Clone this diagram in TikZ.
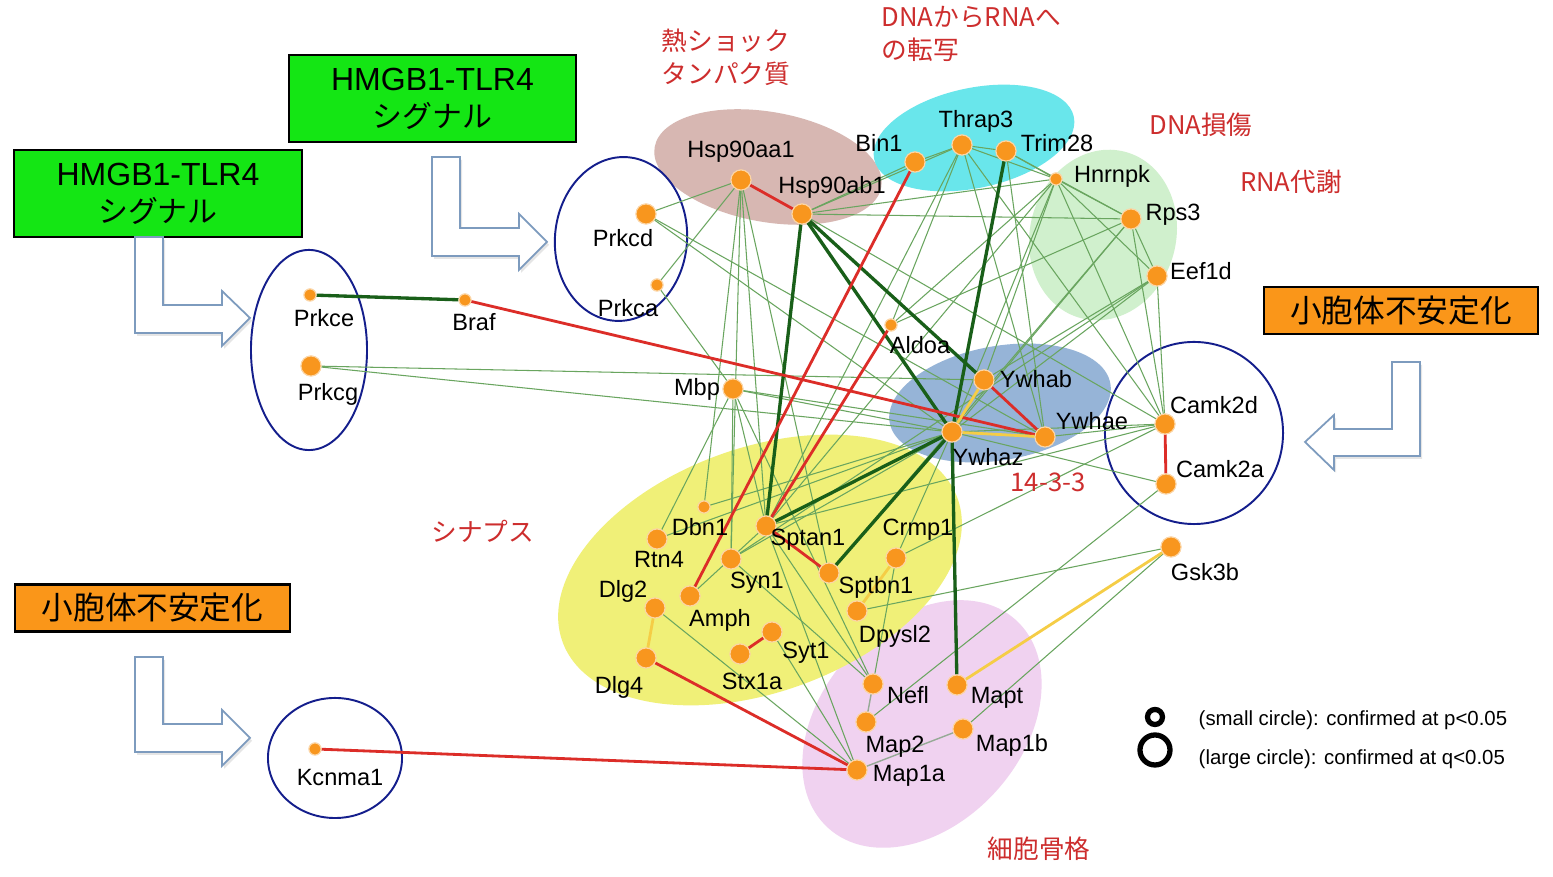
\documentclass[tikz,border=0pt]{standalone}
\usepackage{fontspec}
\setmainfont{Liberation Sans}
\newfontfamily\jpfont{Noto Sans CJK JP}
\usetikzlibrary{shadows}

\definecolor{geneorange}{RGB}{248,150,30}
\definecolor{darkedge}{RGB}{25,95,25}
\definecolor{thinedge}{RGB}{105,165,95}
\definecolor{grayedge}{RGB}{150,170,150}
\definecolor{rededge}{RGB}{220,45,40}
\definecolor{yellowedge}{RGB}{245,205,70}
\definecolor{ringblue}{RGB}{20,30,140}
\definecolor{catred}{RGB}{205,45,45}
\definecolor{boxgreen}{RGB}{20,230,20}
\definecolor{boxorange}{RGB}{250,150,25}
\definecolor{arrowblue}{RGB}{125,155,190}
\definecolor{hspbg}{RGB}{215,183,178}
\definecolor{txbg}{RGB}{105,230,235}
\definecolor{dnabg}{RGB}{208,240,205}
\definecolor{ywbg}{RGB}{150,180,215}
\definecolor{synbg}{RGB}{240,240,120}
\definecolor{cytobg}{RGB}{240,210,240}

\begin{document}
\begin{tikzpicture}[x=0.01cm,y=-0.01cm,
  big/.style={circle,fill=geneorange,draw=geneorange!40!white,line width=0.3pt,minimum size=0.2cm,inner sep=0pt},
  small/.style={big,minimum size=0.12cm},
  gene/.style={font=\fontsize{6.7}{8}\selectfont,inner sep=0pt},
  catlabel/.style={font=\jpfont\fontsize{7.3}{9.4}\selectfont,text=catred,inner sep=0pt,align=left},
  greenlink/.style={draw=thinedge,line width=0.3pt},
  graylink/.style={draw=grayedge,line width=0.4pt},
  darklink/.style={draw=darkedge,line width=0.95pt},
  redlink/.style={draw=rededge,line width=0.8pt},
  yellowlink/.style={draw=yellowedge,line width=0.8pt},
  ring/.style={draw=ringblue,line width=0.55pt},
  sigbox/.style={draw=black,line width=0.6pt,fill=boxgreen,minimum width=2.87cm,minimum height=0.87cm,align=center,inner sep=0pt,font=\fontsize{9.1}{10.5}\selectfont},
  ersbox/.style={draw=black,line width=0.6pt,fill=boxorange,minimum width=2.74cm,minimum height=0.47cm,inner sep=0pt,font=\jpfont\fontsize{9}{10}\selectfont},
  hollow/.style={draw=arrowblue,line width=0.5pt,fill=white,drop shadow={opacity=0.2,shadow xshift=0.6pt,shadow yshift=-0.8pt}}]
 \useasboundingbox (0,0) rectangle (1553,877);
 \fill[white] (0,0) rectangle (1553,877);
 % coloured groups
 \fill[hspbg,rotate around={-10:(768,167)}] (768,167) ellipse [x radius=1.15cm,y radius=0.55cm];
 \fill[dnabg,rotate around={-15:(1103,235)}] (1103,235) ellipse [x radius=0.73cm,y radius=0.86cm];
 \fill[txbg,rotate around={12:(974,138)}] (974,138) ellipse [x radius=1.02cm,y radius=0.5cm];
 \fill[ywbg,rotate around={10:(1000,403)}] (1000,403) ellipse [x radius=1.12cm,y radius=0.57cm];
 \fill[cytobg,rotate around={48:(922,724)}] (922,724) ellipse [x radius=1.4cm,y radius=1cm];
 \fill[synbg,rotate around={20:(760,570)}] (760,570) ellipse [x radius=2.1cm,y radius=1.22cm];
 % blue rings
 \draw[ring] (309,350) ellipse [x radius=0.58cm,y radius=1cm];
 \draw[ring,rotate around={-5:(621,239)}] (621,239) ellipse [x radius=0.66cm,y radius=0.82cm];
 \draw[ring] (1194,433) ellipse [x radius=0.89cm,y radius=0.91cm];
 \draw[ring] (335,758) ellipse [x radius=0.67cm,y radius=0.6cm];

 % genes
 \node[small] (Prkce) at (310,295) {};
 \node[big] (Prkcg) at (311,366) {};
 \node[small] (Braf) at (465,300) {};
 \node[big] (Prkcd) at (646,214) {};
 \node[small] (Prkca) at (657,285) {};
 \node[big] (Hsp90aa1) at (741,180) {};
 \node[big] (Hsp90ab1) at (802,214) {};
 \node[big] (Bin1) at (915,162) {};
 \node[big] (Thrap3) at (962,145) {};
 \node[big] (Trim28) at (1006,151) {};
 \node[small] (Hnrnpk) at (1056,179) {};
 \node[big] (Rps3) at (1131,219) {};
 \node[big] (Eef1d) at (1157,276) {};
 \node[small] (Aldoa) at (891,325) {};
 \node[big] (Mbp) at (733,389) {};
 \node[big] (Ywhab) at (984,380) {};
 \node[big] (Ywhaz) at (952,432) {};
 \node[big] (Ywhae) at (1045,437) {};
 \node[big] (Camk2d) at (1165,424) {};
 \node[big] (Camk2a) at (1166,484) {};
 \node[big] (Gsk3b) at (1171,547) {};
 \node[small] (Dbn1) at (704,507) {};
 \node[big] (Rtn4) at (657,539) {};
 \node[big] (Sptan1) at (766,526) {};
 \node[big] (Crmp1) at (896,558) {};
 \node[big] (Syn1) at (731,559) {};
 \node[big] (Sptbn1) at (829,573) {};
 \node[big] (Dlg2) at (655,608) {};
 \node[big] (Amph) at (690,596) {};
 \node[big] (Dpysl2) at (857,611) {};
 \node[big] (Syt1) at (772,632) {};
 \node[big] (Stx1a) at (740,654) {};
 \node[big] (Dlg4) at (646,658) {};
 \node[big] (Nefl) at (873,684) {};
 \node[big] (Mapt) at (957,685) {};
 \node[big] (Map2) at (866,722) {};
 \node[big] (Map1b) at (963,729) {};
 \node[big] (Map1a) at (857,770) {};
 \node[small] (Kcnma1) at (315,749) {};

 % thin links
 \draw[greenlink] (Prkcg) -- (Ywhab);
 \draw[greenlink] (Prkcg) -- (Ywhaz);
 \draw[greenlink] (Prkcd) -- (Hsp90aa1);
 \draw[greenlink] (Prkcd) -- (Ywhaz);
 \draw[greenlink] (Prkcd) -- (Ywhae);
 \draw[greenlink] (Prkca) -- (Hsp90aa1);
 \draw[greenlink] (Prkca) -- (Mbp);
 \draw[greenlink] (Hsp90aa1) -- (Dbn1);
 \draw[greenlink] (Hsp90aa1) -- (Syn1);
 \draw[greenlink] (Hsp90aa1) -- (Sptan1);
 \draw[greenlink] (Hsp90aa1) -- (Sptbn1);
 \draw[greenlink] (Hsp90ab1) -- (Bin1);
 \draw[greenlink] (Hsp90ab1) -- (Thrap3);
 \draw[greenlink] (Hsp90ab1) -- (Hnrnpk);
 \draw[greenlink] (Hsp90ab1) -- (Rps3);
 \draw[greenlink] (Hsp90ab1) -- (Camk2d);
 \draw[greenlink] (Bin1) -- (Thrap3);
 \draw[greenlink] (Thrap3) -- (Trim28);
 \draw[greenlink] (Thrap3) -- (Hnrnpk);
 \draw[greenlink] (Thrap3) -- (Sptan1);
 \draw[greenlink] (Thrap3) -- (Aldoa);
 \draw[greenlink] (Thrap3) -- (Ywhae);
 \draw[greenlink] (Thrap3) -- (Camk2d);
 \draw[greenlink] (Trim28) -- (Hnrnpk);
 \draw[greenlink] (Trim28) -- (Rps3);
 \draw[greenlink] (Trim28) -- (Ywhae);
 \draw[greenlink] (Hnrnpk) -- (Rps3);
 \draw[greenlink] (Hnrnpk) -- (Eef1d);
 \draw[greenlink] (Hnrnpk) -- (Camk2d);
 \draw[greenlink] (Hnrnpk) -- (Ywhab);
 \draw[greenlink] (Hnrnpk) -- (Ywhaz);
 \draw[greenlink] (Hnrnpk) -- (Aldoa);
 \draw[greenlink] (Hnrnpk) -- (Sptan1);
 \draw[greenlink] (Rps3) -- (Eef1d);
 \draw[greenlink] (Rps3) -- (Camk2d);
 \draw[greenlink] (Rps3) -- (Ywhaz);
 \draw[greenlink] (Rps3) -- (Aldoa);
 \draw[greenlink] (Rps3) -- (Sptbn1);
 \draw[greenlink] (Eef1d) -- (Camk2d);
 \draw[greenlink] (Eef1d) -- (Ywhab);
 \draw[greenlink] (Eef1d) -- (Ywhaz);
 \draw[greenlink] (Eef1d) -- (Syn1);
 \draw[greenlink] (Mbp) -- (Ywhaz);
 \draw[greenlink] (Mbp) -- (Ywhae);
 \draw[greenlink] (Mbp) -- (Syn1);
 \draw[greenlink] (Mbp) -- (Sptan1);
 \draw[greenlink] (Mbp) -- (Rtn4);
 \draw[greenlink] (Mbp) -- (Nefl);
 \draw[greenlink] (Ywhaz) -- (Camk2d);
 \draw[greenlink] (Ywhaz) -- (Camk2a);
 \draw[greenlink] (Ywhae) -- (Camk2d);
 \draw[greenlink] (Ywhaz) -- (Dbn1);
 \draw[greenlink] (Ywhaz) -- (Syn1);
 \draw[greenlink] (Ywhaz) -- (Crmp1);
 \draw[greenlink] (Ywhaz) -- (Rtn4);
 \draw[greenlink] (Sptan1) -- (Amph);
 \draw[greenlink] (Sptan1) -- (Nefl);
 \draw[greenlink] (Sptan1) -- (Camk2d);
 \draw[greenlink] (Syn1) -- (Nefl);
 \draw[greenlink] (Crmp1) -- (Nefl);
 \draw[greenlink] (Crmp1) -- (Camk2d);
 \draw[greenlink] (Dpysl2) -- (Gsk3b);
 \draw[greenlink] (Camk2a) -- (Map2);
 \draw[greenlink] (Gsk3b) -- (Map1b);
 \draw[greenlink] (Dlg2) -- (Map1a);
 \draw[greenlink] (Syt1) -- (Map1a);
 \draw[greenlink] (Sptan1) -- (Map1a);
 \draw[graylink] (Map1b) -- (Map1a);
 \draw[graylink] (Nefl) -- (Map2);
 % strong links
 \draw[darklink] (Prkce) -- (Braf);
 \draw[darklink] (Hsp90ab1) -- (Sptan1);
 \draw[darklink] (Hsp90ab1) -- (Ywhab);
 \draw[darklink] (Hsp90ab1) -- (Ywhaz);
 \draw[darklink] (Trim28) -- (Ywhaz);
 \draw[darklink] (Ywhaz) -- (Sptan1);
 \draw[darklink] (Ywhaz) -- (Sptbn1);
 \draw[darklink] (Ywhaz) -- (Mapt);
 \draw[redlink] (Braf) -- (Ywhae);
 \draw[redlink] (Hsp90aa1) -- (Hsp90ab1);
 \draw[redlink] (Bin1) -- (Amph);
 \draw[redlink] (Aldoa) -- (Sptan1);
 \draw[redlink] (Sptan1) -- (Sptbn1);
 \draw[redlink] (Ywhab) -- (Ywhae);
 \draw[redlink] (Camk2d) -- (Camk2a);
 \draw[redlink] (Stx1a) -- (Syt1);
 \draw[redlink] (Dlg4) -- (Map1a);
 \draw[redlink] (Kcnma1) -- (Map1a);
 \draw[yellowlink] (Ywhab) -- (Ywhaz);
 \draw[yellowlink] (Ywhaz) -- (Ywhae);
 \draw[yellowlink] (Crmp1) -- (Dpysl2);
 \draw[yellowlink] (Dlg2) -- (Dlg4);
 \draw[yellowlink] (Mapt) -- (Gsk3b);

 % dots again, over the links
 \foreach \g in {Prkce,Braf,Prkca,Hnrnpk,Aldoa,Dbn1,Kcnma1}
  \node[small] at (\g) {};
 \foreach \g in {Prkcg,Prkcd,Hsp90aa1,Hsp90ab1,Bin1,Thrap3,Trim28,Rps3,Eef1d,Mbp,Ywhab,Ywhaz,Ywhae,Camk2d,Camk2a,Gsk3b,Rtn4,Sptan1,Crmp1,Syn1,Sptbn1,Dlg2,Amph,Dpysl2,Syt1,Stx1a,Dlg4,Nefl,Mapt,Map2,Map1b,Map1a}
  \node[big] at (\g) {};

 % gene labels
 \node[gene] (tPrkce) at (324,318) {Prkce};
 \node[gene] (tPrkcg) at (328,394) {Prkcg};
 \node[gene] (tBraf) at (474,322) {Braf};
 \node[gene] (tPrkcd) at (623,238) {Prkcd};
 \node[gene] (tPrkca) at (628,308) {Prkca};
 \node[gene] (tHsp90aa1) at (741,152) {Hsp90aa1};
 \node[gene] (tHsp90ab1) at (832,187) {Hsp90ab1};
 \node[gene] (tBin1) at (879,143) {Bin1};
 \node[gene] (tThrap3) at (976,121) {Thrap3};
 \node[gene] (tTrim28) at (1057,143) {Trim28};
 \node[gene] (tHnrnpk) at (1112,176) {Hnrnpk};
 \node[gene] (tRps3) at (1173,215) {Rps3};
 \node[gene] (tEef1d) at (1201,271) {Eef1d};
 \node[gene] (tAldoa) at (920,345) {Aldoa};
 \node[gene] (tMbp) at (697,389) {Mbp};
 \node[gene] (tYwhab) at (1036,379) {Ywhab};
 \node[gene] (tYwhae) at (1092,421) {Ywhae};
 \node[gene] (tYwhaz) at (988,457) {Ywhaz};
 \node[gene] (tCamk2d) at (1214,405) {Camk2d};
 \node[gene] (tCamk2a) at (1220,469) {Camk2a};
 \node[gene] (tGsk3b) at (1205,572) {Gsk3b};
 \node[gene] (tDbn1) at (700,527) {Dbn1};
 \node[gene] (tRtn4) at (659,559) {Rtn4};
 \node[gene] (tSptan1) at (808,540) {Sptan1};
 \node[gene] (tCrmp1) at (918,530) {Crmp1};
 \node[gene] (tSyn1) at (757,583) {Syn1};
 \node[gene] (tSptbn1) at (876,587) {Sptbn1};
 \node[gene] (tDlg2) at (623,591) {Dlg2};
 \node[gene] (tAmph) at (720,620) {Amph};
 \node[gene] (tDpysl2) at (895,636) {Dpysl2};
 \node[gene] (tSyt1) at (806,653) {Syt1};
 \node[gene] (tStx1a) at (752,681) {Stx1a};
 \node[gene] (tDlg4) at (619,687) {Dlg4};
 \node[gene] (tNefl) at (908,695) {Nefl};
 \node[gene] (tMapt) at (997,698) {Mapt};
 \node[gene] (tMap2) at (895,747) {Map2};
 \node[gene] (tMap1b) at (1012,745) {Map1b};
 \node[gene] (tMap1a) at (909,776) {Map1a};
 \node[gene] (tKcnma1) at (340,778) {Kcnma1};

 % group names
 \node[catlabel,anchor=west] (heatshock) at (661,57) {熱ショック\\タンパク質};
 \node[catlabel,anchor=west] (transcr) at (881,34) {DNAからRNAへ\\の転写};
 \node[catlabel] (dnadamage) at (1201,125) {DNA損傷};
 \node[catlabel] (rnameta) at (1291,182) {RNA代謝};
 \node[catlabel] (synapse) at (483,531) {シナプス};
 \node[catlabel] (fourteen) at (1048,482) {14-3-3};
 \node[catlabel] (cytosk) at (1039,849) {細胞骨格};

 % boxes and arrows
 \node[sigbox] (hmgbA) at (432.5,98.5) {HMGB1-TLR4\\{\jpfont\fontsize{8.5}{10.5}\selectfont シグナル}};
 \node[sigbox] (hmgbB) at (158,193.5) {HMGB1-TLR4\\{\jpfont\fontsize{8.5}{10.5}\selectfont シグナル}};
 \node[ersbox] (ersR) at (1401,310.5) {小胞体不安定化};
 \node[ersbox] (ersL) at (152.5,608) {小胞体不安定化};
 \draw[hollow] (135,237) -- (163,237) -- (163,305) -- (222,305) -- (222,291) -- (250,318) -- (222,346) -- (222,333) -- (135,333) -- cycle;
 \draw[hollow] (432,157) -- (460,157) -- (460,228) -- (519,228) -- (519,214) -- (547,242) -- (519,270) -- (519,256) -- (432,256) -- cycle;
 \draw[hollow] (1420,362) -- (1392,362) -- (1392,429) -- (1334,429) -- (1334,415) -- (1305,442) -- (1334,470) -- (1334,456) -- (1420,456) -- cycle;
 \draw[hollow] (135,657) -- (163,657) -- (163,724) -- (222,724) -- (222,710) -- (250,738) -- (222,766) -- (222,752) -- (135,752) -- cycle;

 % legend
 \node[circle,draw,line width=1.5pt,minimum size=0.15cm,inner sep=0pt] (ringsmall) at (1155,717) {};
 \node[circle,draw,line width=1.5pt,minimum size=0.3cm,inner sep=0pt] (ringlarge) at (1155,750) {};
 \node[anchor=west,inner sep=0pt,font=\fontsize{5.8}{7}\selectfont] (legsmall) at (1198,720) {(small circle): confirmed at p<0.05};
 \node[anchor=west,inner sep=0pt,font=\fontsize{5.8}{7}\selectfont] (leglarge) at (1198,759) {(large circle): confirmed at q<0.05};
\end{tikzpicture}
\end{document}
